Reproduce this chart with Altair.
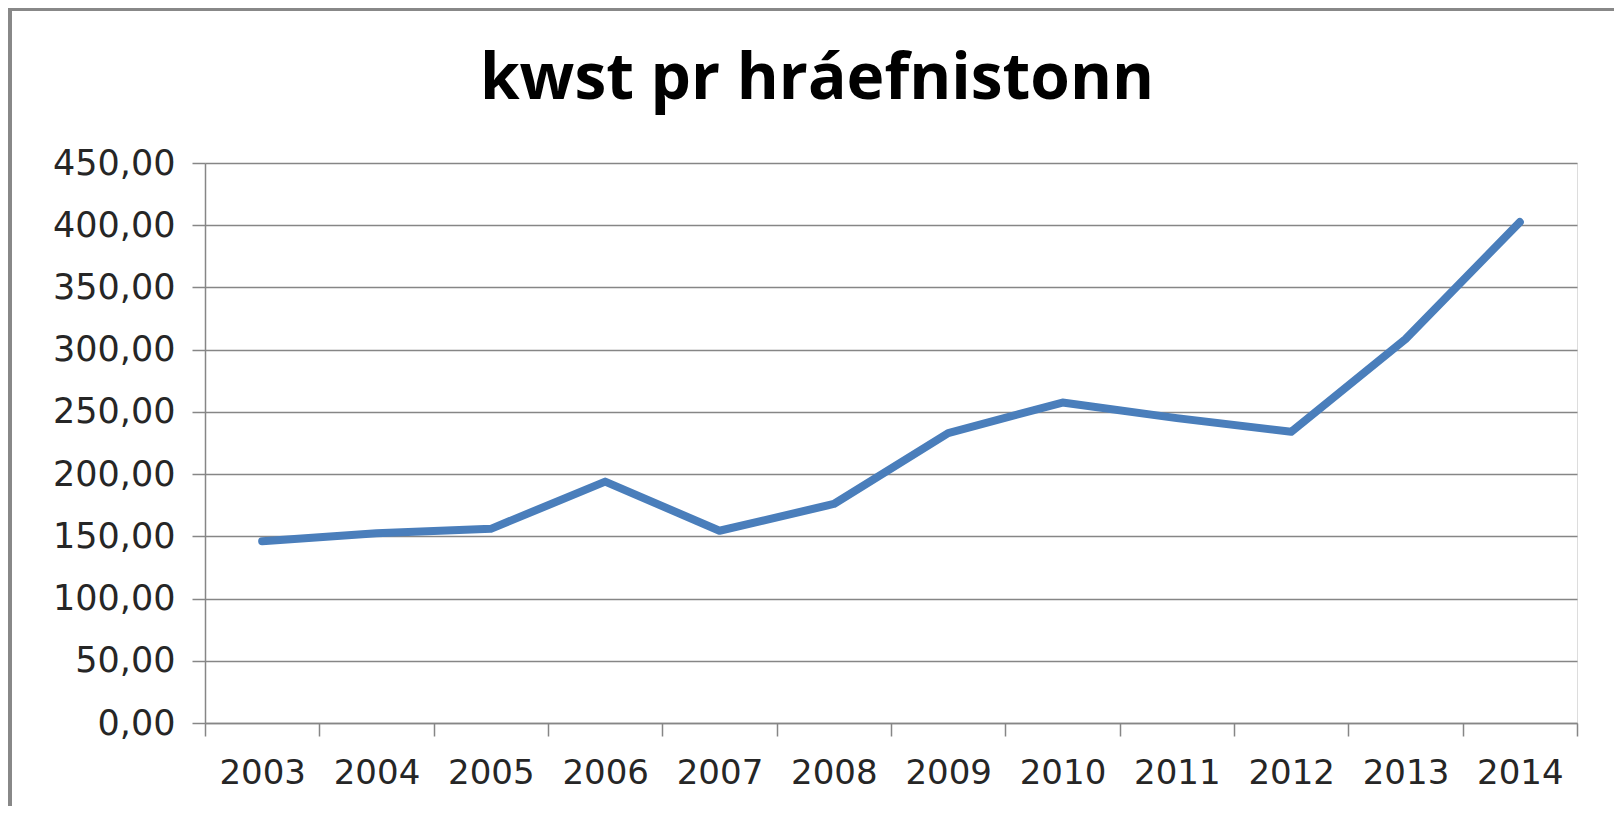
import altair as alt
import pandas as pd

years = [2003, 2004, 2005, 2006, 2007, 2008, 2009, 2010, 2011, 2012, 2013, 2014]
values = [146.0, 152.5, 156.0, 194.0, 154.5, 176.0, 233.0, 257.5, 245.0, 234.0, 308.5, 402.5]
y_ticks = [0, 50, 100, 150, 200, 250, 300, 350, 400, 450]
title_text = "kwst pr hráefnistonn"

df = pd.DataFrame({"year": years, "value": values})

# tick positions: category boundaries (half years) and centers (years, labelled)
x_vals = []
for yv in years:
    x_vals.append(yv - 0.5)
    x_vals.append(yv)
x_vals.append(years[-1] + 0.5)

GRID = "#868686"
W, H = 1372, 560
PL, PT, PR, PB = 197, 155, 37, 83

line = alt.Chart(df).mark_line(
    color="#4A7EBB", strokeWidth=8, strokeCap="round", strokeJoin="round"
).encode(
    x=alt.X(
        "year:Q",
        scale=alt.Scale(domain=[years[0] - 0.5, years[-1] + 0.5], nice=False, zero=False),
        axis=alt.Axis(
            title=None,
            values=x_vals,
            grid=False,
            domainColor=GRID,
            domainWidth=1.5,
            tickColor=GRID,
            tickWidth=1.5,
            tickSize=13,
            tickOpacity={"condition": {"test": "datum.value % 1 != 0", "value": 1}, "value": 0},
            labelExpr="datum.value % 1 == 0 ? '' + datum.value : ''",
            labelFont="DejaVu Sans",
            labelFontSize=34,
            labelColor="#262626",
            labelPadding=20,
            labelOverlap=False,
            labelFlush=False,
            labelBound=False,
        ),
    ),
    y=alt.Y(
        "value:Q",
        scale=alt.Scale(domain=[0, 450], nice=False),
        axis=alt.Axis(
            title=None,
            values=y_ticks,
            grid=True,
            gridColor=GRID,
            gridWidth=1.5,
            domainColor=GRID,
            domainWidth=1.5,
            tickColor=GRID,
            tickWidth=1.5,
            tickSize=13,
            labelExpr="replace(format(datum.value, '.2f'), '.', ',')",
            labelFont="DejaVu Sans",
            labelFontSize=35,
            labelColor="#262626",
            labelPadding=17,
            labelBaseline="middle",
        ),
    ),
)

one = alt.Data(values=[{"k": 1}])
left_border = alt.Chart(one).mark_rect(color="#888888").encode(
    x=alt.value(-PL), x2=alt.value(-PL + 4), y=alt.value(-PT), y2=alt.value(H + PB)
)
top_border = alt.Chart(one).mark_rect(color="#888888").encode(
    x=alt.value(-PL), x2=alt.value(W + PR), y=alt.value(-PT), y2=alt.value(-PT + 3)
)
title = alt.Chart(one).mark_text(
    text=title_text,
    font="Open Sans",
    fontSize=64,
    fontWeight="bold",
    color="#000000",
    align="center",
    baseline="alphabetic",
).encode(x=alt.value(612), y=alt.value(-64))

chart = alt.layer(line, left_border, top_border, title).properties(
    width=W,
    height=H,
    autosize=alt.AutoSizeParams(type="none"),
    padding={"left": PL, "top": PT, "right": PR, "bottom": PB},
).configure_view(stroke=None).configure(background="white")

chart.save("out.html", embed_options={"renderer": "svg", "actions": False})
